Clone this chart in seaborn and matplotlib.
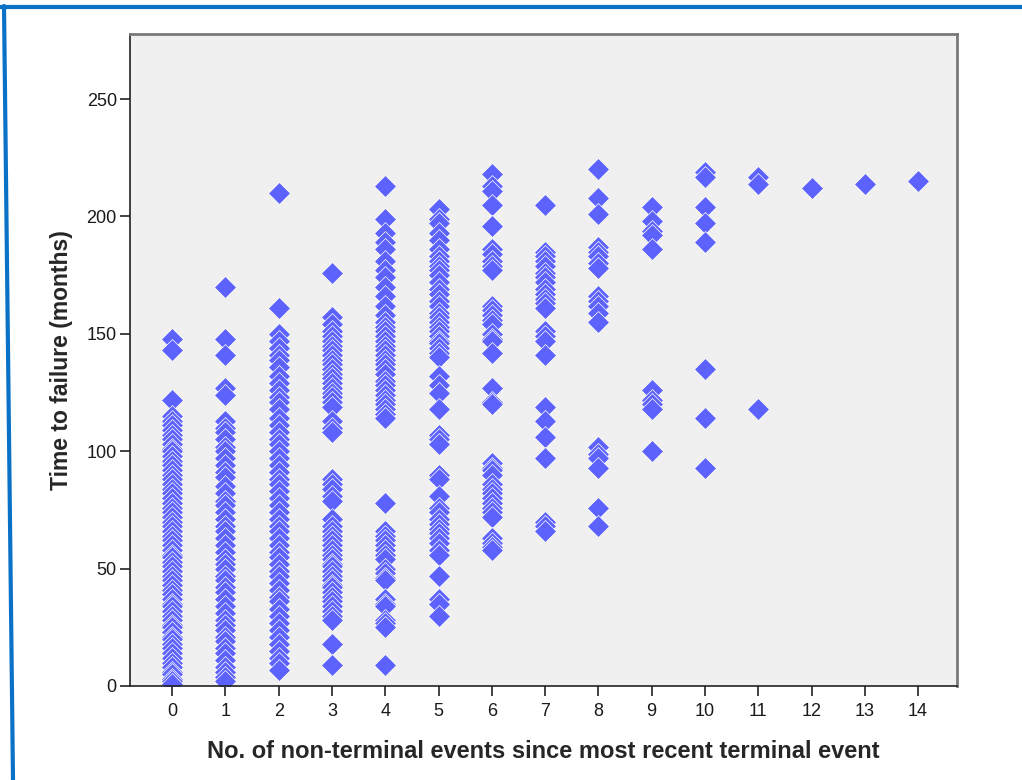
import matplotlib
matplotlib.use("Agg")
import matplotlib.pyplot as plt
from matplotlib.lines import Line2D
import seaborn as sns
import pandas as pd

# ---- data ----
col0 = [148, 143, 122, 115, 113, 111, 109, 107, 105, 103, 101, 100, 98, 96, 94, 92, 90, 88, 86, 84,
        82, 80, 78, 76, 74, 72, 70, 68, 66, 64, 62, 60, 58, 56, 55, 53, 51, 49, 47, 45, 43, 41, 39,
        37, 35, 34, 32, 30, 28, 26, 25, 23, 21, 20, 18, 16, 14, 12, 10, 8, 6, 5, 3, 2, 1]
col1 = [170, 148, 141, 127, 124, 113, 110, 108, 105, 102, 100, 97, 94, 91, 89, 85, 82, 79, 77, 74,
        71, 68, 66, 63, 60, 57, 54, 52, 50, 47, 45, 42, 40, 37, 34, 31, 28, 26, 24, 21, 19, 16, 14,
        11, 8, 6, 4, 2]
col2 = [210, 161, 150, 147, 144, 141, 139, 136, 132, 129, 126, 123, 121, 118, 114, 111, 108, 105,
        103, 100, 97, 94, 91, 88, 86, 83, 80, 77, 74, 71, 68, 66, 63, 60, 57, 55, 52, 49, 47, 44,
        41, 38, 36, 33, 30, 27, 24, 21, 18, 15, 12, 10, 7]
col3 = [176, 157, 154, 151, 149, 147, 145, 143, 141, 139, 137, 135, 133, 131, 129, 127, 125, 123,
        121, 119, 113, 110, 108, 88, 86, 84, 81, 79, 71, 68, 66, 64, 62, 60, 58, 56, 54, 52, 51,
        49, 47, 45, 43, 42, 40, 38, 36, 34, 32, 30, 28, 18, 9]
col4 = [213, 199, 193, 189, 186, 181, 177, 174, 170, 166, 162, 158, 155, 153, 151, 149, 147, 145,
        143, 141, 139, 137, 135, 133, 130, 128, 126, 124, 122, 120, 118, 116, 114, 78, 66, 64, 62,
        60, 58, 56, 54, 50, 48, 46, 45, 37, 35, 34, 28, 27, 25, 9]
col5 = [203, 199, 197, 193, 190, 186, 183, 181, 179, 177, 175, 172, 169, 167, 164, 162, 159, 157,
        155, 153, 151, 149, 147, 146, 144, 142, 140, 132, 128, 125, 118, 107, 105, 103, 90, 88,
        81, 76, 74, 71, 69, 67, 65, 63, 61, 58, 56, 47, 37, 35, 30]
col6 = [218, 213, 211, 205, 196, 186, 184, 181, 179, 177, 162, 160, 158, 156, 154, 150, 148, 147,
        142, 127, 121, 120, 95, 93, 92, 90, 86, 84, 82, 80, 78, 76, 74, 72, 63, 61, 59, 58]
col7 = [205, 185, 183, 181, 179, 176, 174, 172, 169, 167, 165, 163, 161, 151, 149, 147, 141, 119,
        113, 106, 97, 70, 68, 66]
col8 = [220, 208, 201, 187, 185, 183, 180, 178, 166, 164, 162, 159, 155, 102, 99, 97, 93, 76, 68]
col9 = [204, 198, 194, 192, 186, 126, 122, 120, 118, 100]
col10 = [219, 217, 204, 197, 189, 135, 114, 93]
col11 = [217, 214, 118]
col12 = [212]
col13 = [214]
col14 = [215]

columns = [col0, col1, col2, col3, col4, col5, col6, col7, col8, col9, col10, col11, col12, col13, col14]
x_ticks = list(range(15))
y_ticks = [0, 50, 100, 150, 200, 250]
x_label = "No. of non-terminal events since most recent terminal event"
y_label = "Time to failure (months)"

events, months = [], []
for k, vals in zip(x_ticks, columns):
    events.extend([k] * len(vals))
    months.extend(vals)
df = pd.DataFrame({"events": events, "months": months})

# ---- style ----
sns.set_style("ticks")
plt.rcParams["font.family"] = ["Liberation Sans", "DejaVu Sans"]

fig = plt.figure(figsize=(10.22, 7.8), dpi=100)
ax = fig.add_axes([130 / 1022, 1 - 686 / 780, (957 - 130) / 1022, (686 - 34) / 780])
ax.set_facecolor("#F0F0F0")

sns.scatterplot(data=df, x="events", y="months", marker="D", s=125,
                color="#5C62FB", edgecolor="white", linewidth=0.5, ax=ax, legend=False)

ax.set_xlim(-0.79, 14.73)
ax.set_ylim(0, 277.7)
ax.set_xticks(x_ticks)
ax.set_yticks(y_ticks)
ax.tick_params(axis="both", direction="out", length=7.5, width=1.2, color="#222222",
               labelsize=13, labelcolor="#1A1A1A")
ax.tick_params(axis="x", pad=5)
ax.tick_params(axis="y", pad=2)

for side in ["left", "bottom"]:
    ax.spines[side].set_color("#222222")
    ax.spines[side].set_linewidth(1.2)
for side in ["top", "right"]:
    ax.spines[side].set_visible(True)
    ax.spines[side].set_color("#7A7A7A")
    ax.spines[side].set_linewidth(2.0)

ax.set_xlabel(x_label, fontsize=17, fontweight="bold", labelpad=14)
ax.set_ylabel(y_label, fontsize=16.5, fontweight="bold", labelpad=10)

# blue frame around the screenshot
fig.add_artist(Line2D([0, 1], [1 - 7 / 780, 1 - 7 / 780], transform=fig.transFigure,
                      color="#0A72C6", linewidth=3))
fig.add_artist(Line2D([4 / 1022, 13 / 1022], [1 - 6 / 780, 0], transform=fig.transFigure,
                      color="#0A72C6", linewidth=3))

fig.savefig("out.png", dpi=100)
